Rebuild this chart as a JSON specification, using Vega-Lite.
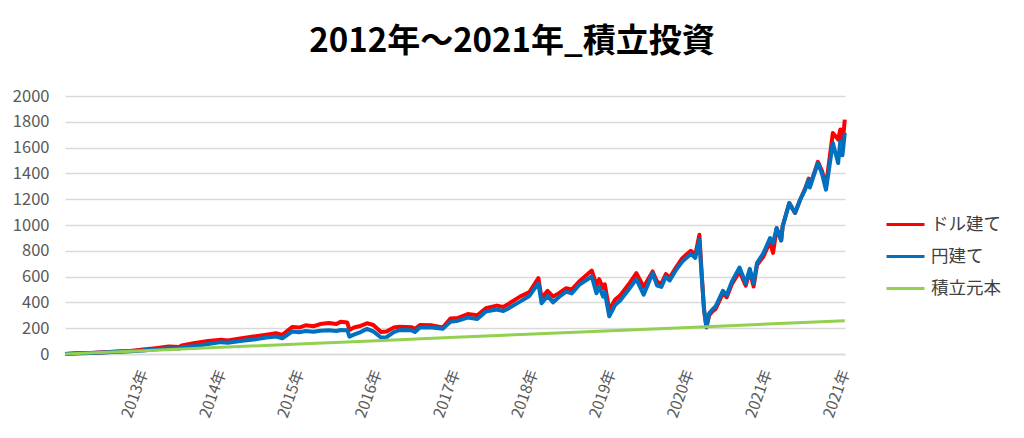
{
  "$schema": "https://vega.github.io/schema/vega-lite/v6.json",
  "autosize": {"type": "none"},
  "width": 780,
  "height": 258,
  "padding": {"left": 65, "top": 96, "right": 179, "bottom": 84},
  "background": "white",
  "config": {"view": {"stroke": null}, "font": "Noto Sans CJK JP"},
  "title": {"text": "2012年～2021年_積立投資", "fontSize": 33, "font": "Noto Sans CJK JP", "fontWeight": "bold", "color": "#000000", "anchor": "middle", "dx": 57, "offset": 29},
  "datasets": {
    "usd": [
      {"d": "2012-01-01", "v": 0}, {"d": "2012-03-01", "v": 5}, {"d": "2012-05-01", "v": 8}, {"d": "2012-07-01", "v": 13},
      {"d": "2012-09-01", "v": 19}, {"d": "2012-11-01", "v": 24}, {"d": "2013-01-01", "v": 34}, {"d": "2013-03-01", "v": 45},
      {"d": "2013-05-01", "v": 58}, {"d": "2013-06-20", "v": 54}, {"d": "2013-07-01", "v": 66}, {"d": "2013-09-01", "v": 85}, {"d": "2013-11-01", "v": 100},
      {"d": "2014-01-01", "v": 110}, {"d": "2014-02-01", "v": 105}, {"d": "2014-04-01", "v": 120}, {"d": "2014-06-01", "v": 135},
      {"d": "2014-08-01", "v": 150}, {"d": "2014-09-15", "v": 162}, {"d": "2014-10-15", "v": 148}, {"d": "2014-12-01", "v": 210},
      {"d": "2015-01-01", "v": 205}, {"d": "2015-02-01", "v": 222}, {"d": "2015-03-10", "v": 215}, {"d": "2015-04-10", "v": 232}, {"d": "2015-05-20", "v": 240},
      {"d": "2015-06-25", "v": 232}, {"d": "2015-07-15", "v": 250},
      {"d": "2015-08-15", "v": 245}, {"d": "2015-08-25", "v": 185}, {"d": "2015-09-15", "v": 205}, {"d": "2015-10-10", "v": 215}, {"d": "2015-11-15", "v": 238},
      {"d": "2015-12-15", "v": 225}, {"d": "2016-01-20", "v": 170}, {"d": "2016-02-15", "v": 175}, {"d": "2016-03-20", "v": 205}, {"d": "2016-04-15", "v": 212},
      {"d": "2016-06-10", "v": 208}, {"d": "2016-06-27", "v": 195}, {"d": "2016-07-20", "v": 225}, {"d": "2016-09-15", "v": 222}, {"d": "2016-11-04", "v": 205},
      {"d": "2016-12-10", "v": 275}, {"d": "2017-01-15", "v": 280}, {"d": "2017-03-01", "v": 310}, {"d": "2017-04-15", "v": 300}, {"d": "2017-05-25", "v": 355},
      {"d": "2017-07-15", "v": 375}, {"d": "2017-08-15", "v": 365}, {"d": "2017-09-01", "v": 381}, {"d": "2017-11-01", "v": 445}, {"d": "2017-12-15", "v": 480},
      {"d": "2018-01-26", "v": 588}, {"d": "2018-02-10", "v": 432}, {"d": "2018-03-10", "v": 490}, {"d": "2018-04-05", "v": 445},
      {"d": "2018-05-01", "v": 470}, {"d": "2018-06-05", "v": 510}, {"d": "2018-07-01", "v": 500}, {"d": "2018-08-05", "v": 562}, {"d": "2018-10-03", "v": 647}, {"d": "2018-10-25", "v": 536},
      {"d": "2018-11-07", "v": 580}, {"d": "2018-11-25", "v": 510}, {"d": "2018-12-03", "v": 540}, {"d": "2018-12-24", "v": 342}, {"d": "2019-01-20", "v": 420}, {"d": "2019-02-15", "v": 458},
      {"d": "2019-03-25", "v": 540}, {"d": "2019-04-30", "v": 627}, {"d": "2019-06-03", "v": 520}, {"d": "2019-07-15", "v": 640}, {"d": "2019-08-05", "v": 560}, {"d": "2019-08-25", "v": 545},
      {"d": "2019-09-15", "v": 620}, {"d": "2019-10-03", "v": 590}, {"d": "2019-11-01", "v": 670}, {"d": "2019-12-01", "v": 743}, {"d": "2020-01-10", "v": 800}, {"d": "2020-01-31", "v": 770}, {"d": "2020-02-19", "v": 924},
      {"d": "2020-03-01", "v": 620}, {"d": "2020-03-12", "v": 340}, {"d": "2020-03-23", "v": 205}, {"d": "2020-04-05", "v": 300},
      {"d": "2020-04-20", "v": 330}, {"d": "2020-05-05", "v": 350}, {"d": "2020-05-25", "v": 420}, {"d": "2020-06-08", "v": 470}, {"d": "2020-06-26", "v": 440}, {"d": "2020-07-20", "v": 540}, {"d": "2020-08-25", "v": 640},
      {"d": "2020-09-23", "v": 530}, {"d": "2020-10-12", "v": 640}, {"d": "2020-10-30", "v": 523}, {"d": "2020-11-15", "v": 690},
      {"d": "2020-12-15", "v": 756}, {"d": "2021-01-15", "v": 870}, {"d": "2021-01-29", "v": 784}, {"d": "2021-02-15", "v": 976},
      {"d": "2021-03-08", "v": 880}, {"d": "2021-03-15", "v": 989}, {"d": "2021-04-15", "v": 1170}, {"d": "2021-05-12", "v": 1093},
      {"d": "2021-06-05", "v": 1196}, {"d": "2021-06-28", "v": 1280}, {"d": "2021-07-15", "v": 1360}, {"d": "2021-07-20", "v": 1300},
      {"d": "2021-08-27", "v": 1490}, {"d": "2021-09-15", "v": 1420}, {"d": "2021-10-04", "v": 1300}, {"d": "2021-11-05", "v": 1714},
      {"d": "2021-11-30", "v": 1662}, {"d": "2021-12-10", "v": 1740}, {"d": "2021-12-20", "v": 1620}, {"d": "2021-12-31", "v": 1817}
    ],
    "jpy": [
      {"d": "2012-01-01", "v": 0}, {"d": "2012-03-01", "v": 5}, {"d": "2012-05-01", "v": 8}, {"d": "2012-07-01", "v": 12},
      {"d": "2012-09-01", "v": 18}, {"d": "2012-11-01", "v": 22}, {"d": "2013-01-01", "v": 27}, {"d": "2013-03-01", "v": 36},
      {"d": "2013-05-01", "v": 45}, {"d": "2013-06-20", "v": 42}, {"d": "2013-07-01", "v": 52}, {"d": "2013-09-01", "v": 62}, {"d": "2013-11-01", "v": 78},
      {"d": "2014-01-01", "v": 92}, {"d": "2014-02-01", "v": 88}, {"d": "2014-04-01", "v": 100}, {"d": "2014-06-01", "v": 112},
      {"d": "2014-08-01", "v": 128}, {"d": "2014-09-15", "v": 136}, {"d": "2014-10-15", "v": 122}, {"d": "2014-12-01", "v": 175},
      {"d": "2015-01-01", "v": 168}, {"d": "2015-02-01", "v": 178}, {"d": "2015-03-10", "v": 172}, {"d": "2015-04-10", "v": 180}, {"d": "2015-05-20", "v": 184},
      {"d": "2015-06-25", "v": 178}, {"d": "2015-07-15", "v": 186},
      {"d": "2015-08-15", "v": 185}, {"d": "2015-08-25", "v": 135}, {"d": "2015-09-15", "v": 150}, {"d": "2015-10-10", "v": 165}, {"d": "2015-11-15", "v": 195},
      {"d": "2015-12-15", "v": 175}, {"d": "2016-01-20", "v": 128}, {"d": "2016-02-15", "v": 130}, {"d": "2016-03-20", "v": 170}, {"d": "2016-04-15", "v": 186},
      {"d": "2016-06-10", "v": 185}, {"d": "2016-06-27", "v": 170}, {"d": "2016-07-20", "v": 205}, {"d": "2016-09-15", "v": 205}, {"d": "2016-11-04", "v": 195},
      {"d": "2016-12-10", "v": 250}, {"d": "2017-01-15", "v": 258}, {"d": "2017-03-01", "v": 282}, {"d": "2017-04-15", "v": 272}, {"d": "2017-05-25", "v": 329},
      {"d": "2017-07-15", "v": 345}, {"d": "2017-08-15", "v": 333}, {"d": "2017-09-01", "v": 347}, {"d": "2017-11-01", "v": 406}, {"d": "2017-12-15", "v": 450},
      {"d": "2018-01-26", "v": 549}, {"d": "2018-02-10", "v": 394}, {"d": "2018-03-10", "v": 450}, {"d": "2018-04-05", "v": 400},
      {"d": "2018-05-01", "v": 440}, {"d": "2018-06-05", "v": 484}, {"d": "2018-07-01", "v": 470}, {"d": "2018-08-05", "v": 536}, {"d": "2018-10-03", "v": 601}, {"d": "2018-10-25", "v": 471},
      {"d": "2018-11-07", "v": 520}, {"d": "2018-11-25", "v": 445}, {"d": "2018-12-03", "v": 480}, {"d": "2018-12-24", "v": 292}, {"d": "2019-01-20", "v": 380}, {"d": "2019-02-15", "v": 419},
      {"d": "2019-03-25", "v": 500}, {"d": "2019-04-30", "v": 580}, {"d": "2019-06-03", "v": 460}, {"d": "2019-07-15", "v": 627}, {"d": "2019-08-05", "v": 530}, {"d": "2019-08-25", "v": 520},
      {"d": "2019-09-15", "v": 600}, {"d": "2019-10-03", "v": 570}, {"d": "2019-11-01", "v": 650}, {"d": "2019-12-01", "v": 717}, {"d": "2020-01-10", "v": 775}, {"d": "2020-01-31", "v": 745}, {"d": "2020-02-19", "v": 885},
      {"d": "2020-03-01", "v": 600}, {"d": "2020-03-12", "v": 342}, {"d": "2020-03-23", "v": 212}, {"d": "2020-04-05", "v": 316},
      {"d": "2020-04-20", "v": 345}, {"d": "2020-05-05", "v": 368}, {"d": "2020-05-25", "v": 440}, {"d": "2020-06-08", "v": 490}, {"d": "2020-06-26", "v": 458}, {"d": "2020-07-20", "v": 560}, {"d": "2020-08-25", "v": 670},
      {"d": "2020-09-23", "v": 549}, {"d": "2020-10-12", "v": 660}, {"d": "2020-10-30", "v": 549}, {"d": "2020-11-15", "v": 704},
      {"d": "2020-12-15", "v": 782}, {"d": "2021-01-15", "v": 899}, {"d": "2021-01-29", "v": 860}, {"d": "2021-02-15", "v": 976},
      {"d": "2021-03-08", "v": 880}, {"d": "2021-03-15", "v": 989}, {"d": "2021-04-15", "v": 1170}, {"d": "2021-05-12", "v": 1093},
      {"d": "2021-06-05", "v": 1196}, {"d": "2021-06-28", "v": 1274}, {"d": "2021-07-15", "v": 1351}, {"d": "2021-07-20", "v": 1290},
      {"d": "2021-08-27", "v": 1481}, {"d": "2021-09-15", "v": 1400}, {"d": "2021-10-04", "v": 1274}, {"d": "2021-11-05", "v": 1636},
      {"d": "2021-11-30", "v": 1480}, {"d": "2021-12-10", "v": 1650}, {"d": "2021-12-20", "v": 1540}, {"d": "2021-12-31", "v": 1714}
    ],
    "principal": [
      {"d": "2012-01-01", "v": 0}, {"d": "2013-01-01", "v": 26}, {"d": "2014-01-01", "v": 52}, {"d": "2015-01-01", "v": 77},
      {"d": "2016-01-01", "v": 103}, {"d": "2017-01-01", "v": 129}, {"d": "2018-01-01", "v": 155}, {"d": "2019-01-01", "v": 181},
      {"d": "2020-01-01", "v": 206}, {"d": "2021-01-01", "v": 232}, {"d": "2021-12-31", "v": 258}
    ]
  },
  "encoding": {
    "x": {
      "field": "d", "type": "temporal", "title": null,
      "scale": {"domain": [{"year": 2012, "month": 1, "date": 1}, {"year": 2022, "month": 1, "date": 1}]},
      "axis": {
        "values": [
          {"year": 2013, "month": 1, "date": 1}, {"year": 2014, "month": 1, "date": 1}, {"year": 2015, "month": 1, "date": 1},
          {"year": 2016, "month": 1, "date": 1}, {"year": 2017, "month": 1, "date": 1}, {"year": 2018, "month": 1, "date": 1},
          {"year": 2019, "month": 1, "date": 1}, {"year": 2020, "month": 1, "date": 1}, {"year": 2021, "month": 1, "date": 1},
          {"year": 2021, "month": 12, "date": 31}
        ],
        "format": "%Y年", "labelAngle": -70, "labelFontSize": 15.5, "labelColor": "#595959",
        "labelFont": "Noto Sans CJK JP", "labelPadding": 16, "ticks": false, "grid": false,
        "domainColor": "#d9d9d9", "domainWidth": 1.5, "labelOverlap": false, "labelBound": false, "labelFlush": false
      }
    },
    "y": {
      "field": "v", "type": "quantitative", "title": null,
      "scale": {"domain": [0, 2000]},
      "axis": {
        "values": [0, 200, 400, 600, 800, 1000, 1200, 1400, 1600, 1800, 2000],
        "format": "d", "labelFontSize": 16.5, "labelColor": "#595959", "labelFont": "Noto Sans CJK JP",
        "labelPadding": 16, "ticks": false, "domain": false, "gridColor": "#d9d9d9", "gridWidth": 1.5
      }
    },
    "color": {
      "field": "s", "type": "nominal",
      "scale": {"domain": ["ドル建て", "円建て", "積立元本"], "range": ["#ff0000", "#0070c0", "#92d050"]},
      "legend": {
        "orient": "none", "legendX": 820, "legendY": 108, "title": null, "symbolType": "stroke",
        "symbolSize": 1444, "symbolStrokeWidth": 3, "labelFontSize": 17.5, "labelFont": "Noto Sans CJK JP",
        "labelColor": "#404040", "rowPadding": 3, "labelOffset": 5
      }
    }
  },
  "layer": [
    {"data": {"name": "usd"}, "mark": {"type": "line", "strokeWidth": 4, "strokeJoin": "round"},
     "encoding": {"color": {"datum": "ドル建て", "type": "nominal"}}},
    {"data": {"name": "jpy"}, "mark": {"type": "line", "strokeWidth": 4, "strokeJoin": "round"},
     "encoding": {"color": {"datum": "円建て", "type": "nominal"}}},
    {"data": {"name": "principal"}, "mark": {"type": "line", "strokeWidth": 3, "strokeJoin": "round"},
     "encoding": {"color": {"datum": "積立元本", "type": "nominal"}}}
  ]
}
